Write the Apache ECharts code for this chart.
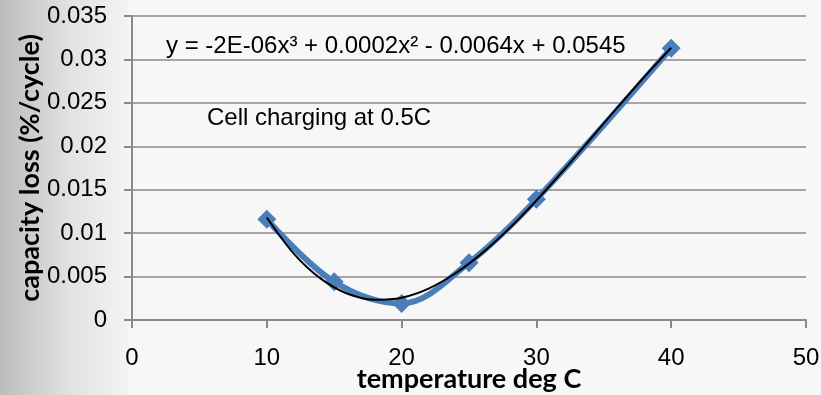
<!DOCTYPE html>
<html>
<head>
<meta charset="utf-8">
<script src="https://cdn.jsdelivr.net/npm/echarts@6/dist/echarts.min.js"></script>
<style>
  html, body { margin: 0; padding: 0; }
  body {
    width: 821px; height: 395px; overflow: hidden;
    background: linear-gradient(to right, #bcbcbc 0px, #e2e2e2 70px, #f3f3f3 128px, #f7f7f7 130px, #f7f7f7 100%);
  }
  #chart { width: 821px; height: 395px; }
</style>
</head>
<body>
<div id="chart"></div>
<script>
// Measured capacity loss per cycle against cell temperature
const temperatures = [10, 15, 20, 25, 30, 40];
const capacityLoss = [0.0116, 0.0044, 0.0019, 0.0066, 0.0139, 0.0313];

// Polynomial (order 3) trendline, sampled along its drawn path
const trendTemps = [10, 12, 14, 16, 18, 20, 22, 24, 26, 28, 30, 32, 34, 36, 38, 40];
const trendLoss = [0.01180, 0.00764, 0.00476, 0.00302, 0.00233, 0.00257, 0.00362, 0.00538,
                   0.00773, 0.01056, 0.01376, 0.01721, 0.02081, 0.02444, 0.02798, 0.03134];

const xTicks = [0, 10, 20, 30, 40, 50];
const yTicks = [0, 0.005, 0.01, 0.015, 0.02, 0.025, 0.03, 0.035];

const equationText = 'y = -2E-06x³ + 0.0002x² - 0.0064x + 0.0545';
const noteText = 'Cell charging at 0.5C';
const xTitle = 'temperature deg C';
const yTitle = 'capacity loss (%/cycle)';

const chart = echarts.init(document.getElementById('chart'), null, { renderer: 'canvas' });

const numFont = 'Liberation Sans, Arial, sans-serif';
const titleFont = 'Lato, Open Sans, sans-serif';
const axisGrey = '#8a8a8a';

chart.setOption({
  backgroundColor: 'transparent',
  animation: false,
  grid: { left: 132, right: 15, top: 16, bottom: 75, containLabel: false, outerBoundsMode: 'none' },
  xAxis: {
    type: 'value',
    min: xTicks[0],
    max: xTicks[xTicks.length - 1],
    interval: xTicks[1] - xTicks[0],
    name: xTitle,
    nameLocation: 'middle',
    nameGap: 46,
    nameMoveOverlap: false,
    nameTextStyle: { fontFamily: titleFont, fontWeight: 'bold', fontSize: 27, color: '#000' },
    axisLine: { show: true, onZero: false, lineStyle: { color: axisGrey, width: 2 } },
    axisTick: { show: true, length: 8, inside: false, lineStyle: { color: axisGrey, width: 2 } },
    axisLabel: { fontFamily: numFont, fontSize: 24, color: '#000', margin: 26 },
    splitLine: { show: false }
  },
  yAxis: {
    type: 'value',
    min: yTicks[0],
    max: yTicks[yTicks.length - 1],
    interval: yTicks[1] - yTicks[0],
    name: yTitle,
    nameLocation: 'middle',
    nameGap: 88,
    nameRotate: 90,
    nameMoveOverlap: false,
    nameTextStyle: { fontFamily: titleFont, fontWeight: 'bold', fontSize: 27, color: '#000' },
    axisLine: { show: true, lineStyle: { color: axisGrey, width: 2 } },
    axisTick: { show: true, length: 8, inside: false, lineStyle: { color: axisGrey, width: 2 } },
    axisLabel: {
      fontFamily: numFont, fontSize: 24, color: '#000', margin: 25,
      formatter: v => String(parseFloat(v.toFixed(3)))
    },
    splitLine: { show: true, lineStyle: { color: axisGrey, width: 1.5 } }
  },
  series: [
    {
      name: 'capacity loss',
      type: 'line',
      data: temperatures.map((t, i) => [t, capacityLoss[i]]),
      smooth: 0.35,
      symbol: 'diamond',
      symbolSize: 19,
      itemStyle: { color: '#4a7ebb' },
      lineStyle: { color: '#4a7ebb', width: 6 },
      z: 2
    },
    {
      name: 'trend',
      type: 'line',
      data: trendTemps.map((t, i) => [t, trendLoss[i]]),
      smooth: 0.3,
      symbol: 'none',
      lineStyle: { color: '#000', width: 2 },
      z: 3
    }
  ],
  graphic: [
    {
      type: 'text',
      left: 166, top: 34,
      style: { text: equationText, fontFamily: numFont, fontSize: 24, fill: '#000' }
    },
    {
      type: 'text',
      left: 207, top: 106,
      style: { text: noteText, fontFamily: numFont, fontSize: 24, fill: '#000' }
    }
  ]
});
</script>
</body>
</html>
